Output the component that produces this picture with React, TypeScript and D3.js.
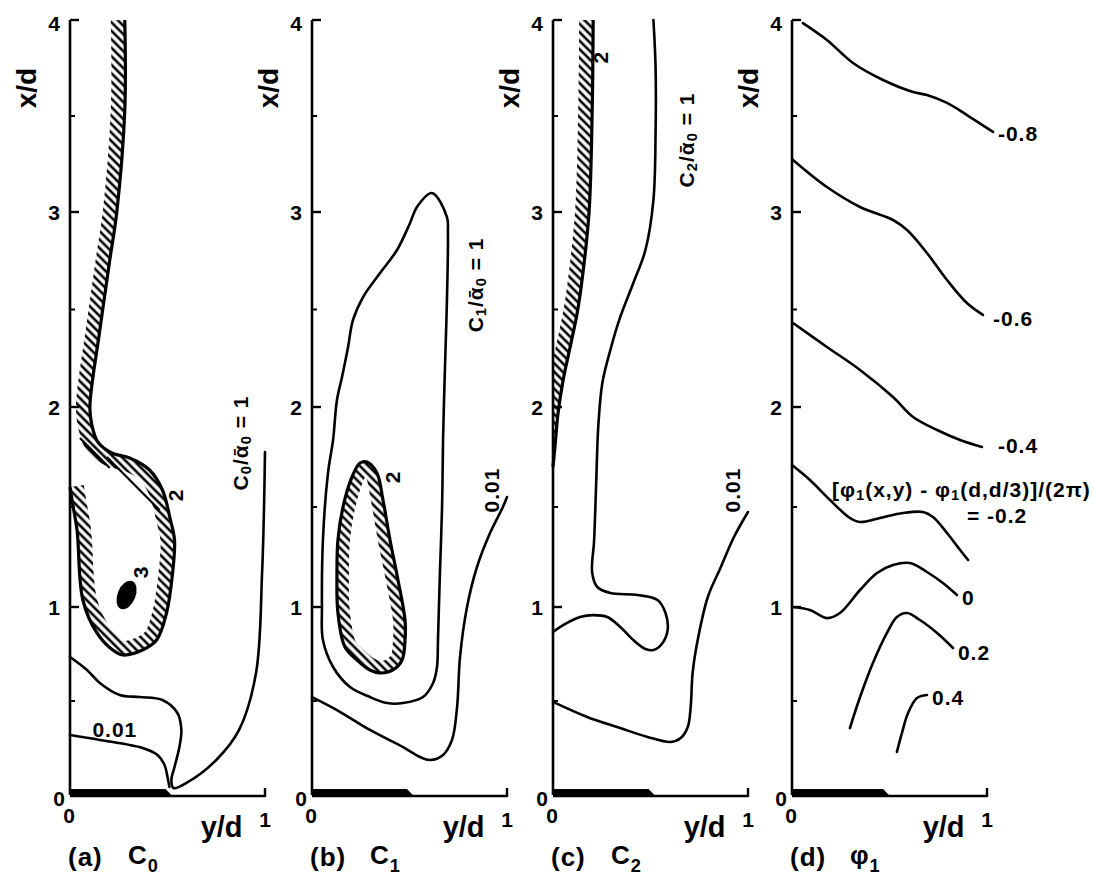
import React from 'react';
import * as d3 from 'd3';

type P = [number, number];

// ---------- axis data ----------
const Y_TICKS = [0, 1, 2, 3, 4];
const Y_MINOR = [0.5, 1.5, 2.5, 3.5];

// ---------- panel (a) C0 ----------
const A_LEVEL2: P[] = [[0.281,4.0],[0.281,3.531],[0.240,3.0],[0.204,2.754],[0.153,2.395],[0.102,2.0],[0.112,1.91],[0.143,1.825],[0.214,1.77],[0.306,1.745],[0.408,1.685],[0.474,1.585],[0.515,1.435],[0.536,1.335],[0.526,1.17],[0.495,0.968],[0.444,0.824],[0.372,0.771],[0.270,0.745],[0.219,0.771],[0.138,0.862],[0.066,1.035],[0.036,1.385],[0.010,1.535],[0,1.60]];
const A_NECK: P[][] = [[[0.051,1.845],[0.204,1.695]],[[0.189,1.75],[0.459,1.485]]];
const A_PEAK: P = [0.29, 1.06];
const A_LEVEL1: P[] = [[0,0.734],[0.087,0.665],[0.153,0.596],[0.255,0.532],[0.357,0.521],[0.474,0.505],[0.551,0.436],[0.571,0.346],[0.561,0.255],[0.536,0.149],[0.520,0.080],[0.531,0.037],[0.597,0.064],[0.750,0.186],[0.867,0.346],[0.954,0.649],[0.985,1.17],[0.995,1.50],[1.0,1.775]];
const A_LEVEL001: P[] = [[0,0.319],[0.153,0.293],[0.372,0.25],[0.449,0.213],[0.485,0.16],[0.5,0.096],[0.51,0.043]];

// ---------- panel (b) C1 ----------
const B_LEVEL1: P[] = [[0.615,3.099],[0.692,2.974],[0.697,2.892],[0.692,2.549],[0.682,2.205],[0.672,1.835],[0.667,1.50],[0.656,1.17],[0.646,0.824],[0.641,0.681],[0.621,0.596],[0.569,0.521],[0.467,0.489],[0.385,0.489],[0.297,0.521],[0.195,0.574],[0.108,0.681],[0.056,0.824],[0.051,1.0],[0.056,1.335],[0.082,1.67],[0.108,1.835],[0.128,2.036],[0.154,2.154],[0.185,2.308],[0.210,2.446],[0.262,2.564],[0.349,2.687],[0.436,2.805],[0.503,2.944],[0.538,3.026]];
const B_LEVEL2: P[] = [[0.282,1.725],[0.333,1.67],[0.364,1.535],[0.4,1.335],[0.441,1.135],[0.477,0.931],[0.477,0.824],[0.462,0.718],[0.415,0.665],[0.349,0.649],[0.297,0.665],[0.231,0.718],[0.169,0.787],[0.133,0.968],[0.128,1.17],[0.133,1.335],[0.159,1.50],[0.205,1.65],[0.246,1.72]];
const B_LEVEL001: P[] = [[0,0.521],[0.128,0.452],[0.297,0.346],[0.467,0.255],[0.554,0.202],[0.605,0.186],[0.672,0.213],[0.718,0.293],[0.744,0.468],[0.759,0.734],[0.795,1.0],[0.846,1.2],[0.913,1.37],[0.979,1.50],[1.0,1.55]];

// ---------- panel (c) C2 ----------
const C_LEVEL2: P[] = [[0.206,4.0],[0.201,3.531],[0.185,3.0],[0.149,2.651],[0.124,2.482],[0.088,2.308],[0.052,2.138],[0.026,1.97],[0.010,1.80],[0,1.70]];
const C_LEVEL1: P[] = [[0.515,4.0],[0.526,3.755],[0.526,3.411],[0.515,3.0625],[0.474,2.805],[0.412,2.636],[0.345,2.462],[0.294,2.292],[0.253,2.123],[0.232,1.9],[0.222,1.635],[0.211,1.335],[0.201,1.17],[0.227,1.10],[0.294,1.07],[0.433,1.06],[0.536,1.035],[0.577,0.968],[0.588,0.878],[0.562,0.809],[0.515,0.771],[0.474,0.777],[0.412,0.824],[0.345,0.894],[0.278,0.947],[0.206,0.957],[0.139,0.947],[0.052,0.904],[0,0.867]];
const C_LEVEL001: P[] = [[0,0.495],[0.175,0.415],[0.345,0.356],[0.485,0.309],[0.603,0.282],[0.655,0.303],[0.691,0.362],[0.706,0.468],[0.716,0.649],[0.742,0.824],[0.794,1.05],[0.861,1.2],[0.928,1.35],[1.0,1.475]];

// ---------- panel (d) phi1 ----------
const D_M08: P[] = [[0.056,3.984],[0.179,3.896],[0.313,3.776],[0.467,3.6875],[0.621,3.625],[0.692,3.609],[0.795,3.568],[0.897,3.505],[1.031,3.417]];
const D_M06: P[] = [[0.005,3.271],[0.179,3.13],[0.349,3.026],[0.518,2.959],[0.590,2.908],[0.692,2.79],[0.795,2.651],[0.897,2.533],[0.979,2.472]];
const D_M04: P[] = [[0.005,2.431],[0.179,2.308],[0.349,2.19],[0.518,2.051],[0.621,1.95],[0.744,1.885],[0.862,1.835],[0.974,1.8]];
const D_M02: P[] = [[0,1.71],[0.092,1.635],[0.195,1.535],[0.297,1.445],[0.349,1.425],[0.451,1.445],[0.569,1.47],[0.672,1.475],[0.723,1.45],[0.795,1.37],[0.862,1.285],[0.903,1.235]];
const D_P00: P[] = [[0,1.0],[0.092,0.984],[0.179,0.941],[0.246,0.968],[0.349,1.085],[0.436,1.17],[0.518,1.21],[0.605,1.22],[0.692,1.175],[0.774,1.12],[0.846,1.06]];
const D_P02: P[] = [[0.297,0.356],[0.349,0.521],[0.415,0.702],[0.487,0.862],[0.538,0.947],[0.590,0.968],[0.656,0.931],[0.744,0.862],[0.826,0.782]];
const D_P04: P[] = [[0.538,0.229],[0.564,0.33],[0.595,0.436],[0.641,0.516],[0.692,0.532]];

// nozzle (solid wall) extent along y/d
const NOZZLE_END = [0.49, 0.487, 0.49, 0.467];

type Label = { t: string; u: number; v: number; rot?: boolean; anchor?: 'start' | 'middle' };

const A_LABELS: Label[] = [
  { t: '2', u: 0.536, v: 1.56, rot: true },
  { t: '3', u: 0.357, v: 1.175, rot: true },
  { t: '0.01', u: 0.23, v: 0.35 },
  { t: 'C_0/ᾱ_0 = 1', u: 0.872, v: 1.82, rot: true },
];
const B_LABELS: Label[] = [
  { t: '2', u: 0.41, v: 1.65, rot: true },
  { t: '0.01', u: 0.918, v: 1.585, rot: true },
  { t: 'C_1/ᾱ_0 = 1', u: 0.836, v: 2.626, rot: true },
];
const C_LABELS: Label[] = [
  { t: '2', u: 0.242, v: 3.807, rot: true },
  { t: '0.01', u: 0.918, v: 1.585, rot: true },
  { t: 'C_2/ᾱ_0 = 1', u: 0.68, v: 3.375, rot: true },
];
const D_LABELS: Label[] = [
  { t: '-0.8', u: 1.056, v: 3.41, anchor: 'start' },
  { t: '-0.6', u: 1.031, v: 2.456, anchor: 'start' },
  { t: '-0.4', u: 1.056, v: 1.81, anchor: 'start' },
  { t: '[φ_1(x,y) - φ_1(d,d/3)]/(2π)', u: 0.205, v: 1.59, anchor: 'start' },
  { t: '= -0.2', u: 0.897, v: 1.46, anchor: 'start' },
  { t: '0', u: 0.872, v: 1.05, anchor: 'start' },
  { t: '0.2', u: 0.851, v: 0.761, anchor: 'start' },
  { t: '0.4', u: 0.718, v: 0.521, anchor: 'start' },
];

const CAPTIONS = ['(a)', '(b)', '(c)', '(d)'];
const CAPTION_SYMS = ['C_0', 'C_1', 'C_2', 'φ_1'];

const FONT = "'Liberation Sans', Arial, sans-serif";

function rich(s: string, size: number) {
  const parts = s.split(/_(.)/);
  const out: React.ReactNode[] = [];
  let down = false;
  const sh = size * 0.3;
  parts.forEach((p, i) => {
    if (i % 2 === 1) {
      out.push(<tspan key={i} dy={down ? 0 : sh} fontSize={size * 0.7}>{p}</tspan>);
      down = true;
    } else if (p !== '') {
      out.push(<tspan key={i} dy={down ? -sh : 0}>{p}</tspan>);
      down = false;
    }
  });
  return out;
}

interface PanelProps {
  idx: number;
  left: number;
  lines: P[][];
  closed: P[][];
  hatchOpen?: P[];
  hatchClosed?: P[];
  thin?: P[][];
  peak?: P;
  labels: Label[];
}

function Panel({ idx, left, lines, closed, hatchOpen, hatchClosed, thin, peak, labels }: PanelProps) {
  const x = d3.scaleLinear().domain([0, 1]).range([left, left + 195]);
  const y = d3.scaleLinear().domain(Y_TICKS).range([795, 607, 407, 212, 20]);
  const line = d3.line<P>().x(d => x(d[0])).y(d => y(d[1])).curve(d3.curveCatmullRom.alpha(0.5));
  const loop = d3.line<P>().x(d => x(d[0])).y(d => y(d[1])).curve(d3.curveCatmullRomClosed.alpha(0.5));
  const y0 = y(0);
  const ne = NOZZLE_END[idx];
  const cid = `clip${idx}`;
  return (
    <g>
      {hatchOpen && (
        <>
          <clipPath id={cid}>
            <path d={`${line(hatchOpen)}L${x(0)},${y(4)}Z`} />
          </clipPath>
          <path d={line(hatchOpen) || ''} fill="none" stroke="url(#hatch)" strokeWidth={28} clipPath={`url(#${cid})`} />
          <path d={line(hatchOpen) || ''} fill="none" stroke="#000" strokeWidth={3.2} />
        </>
      )}
      {hatchClosed && (
        <>
          <clipPath id={cid}>
            <path d={loop(hatchClosed) || ''} />
          </clipPath>
          <path d={loop(hatchClosed) || ''} fill="none" stroke="url(#hatch)" strokeWidth={24} clipPath={`url(#${cid})`} />
          <path d={loop(hatchClosed) || ''} fill="none" stroke="#000" strokeWidth={3.2} />
        </>
      )}
      {(thin || []).map((t, i) => (
        <path key={`t${i}`} d={line(t) || ''} stroke="#000" strokeWidth={2.2} fill="none" />
      ))}
      {lines.map((l, i) => (
        <path key={`l${i}`} d={line(l) || ''} stroke="#000" strokeWidth={2.6} fill="none" strokeLinecap="round" />
      ))}
      {closed.map((l, i) => (
        <path key={`c${i}`} d={loop(l) || ''} stroke="#000" strokeWidth={2.6} fill="none" />
      ))}
      {peak && (
        <ellipse cx={x(peak[0])} cy={y(peak[1])} rx={9} ry={15} fill="#000"
          transform={`rotate(22, ${x(peak[0])}, ${y(peak[1])})`} />
      )}
      {/* axes */}
      <line x1={x(0)} x2={x(0)} y1={y(0)} y2={y(4)} stroke="#000" strokeWidth={2.6} />
      {Y_TICKS.filter(t => t > 0).map(t => (
        <line key={`mt${t}`} x1={x(0)} x2={x(0) + 9} y1={y(t)} y2={y(t)} stroke="#000" strokeWidth={2.4} />
      ))}
      {Y_MINOR.map(t => (
        <line key={`nt${t}`} x1={x(0)} x2={x(0) + 5} y1={y(t)} y2={y(t)} stroke="#000" strokeWidth={2} />
      ))}
      <line x1={x(0)} x2={x(1)} y1={y0 + 1} y2={y0 + 1} stroke="#000" strokeWidth={2.6} />
      <line x1={x(1)} x2={x(1)} y1={y0 + 2} y2={y0 - 7} stroke="#000" strokeWidth={2.4} />
      <path d={`M${x(0)},${y0 - 6}L${x(ne)},${y0 - 6}L${x(ne + 0.035)},${y0 + 1}L${x(0)},${y0 + 1}Z`} fill="#000" />
      {/* tick labels */}
      <g fontFamily={FONT} fontWeight="bold" fontSize={21} fill="#000">
        {Y_TICKS.filter(t => t > 0).map(t => (
          <text key={`tl${t}`} x={x(0) - 10} y={y(t) + 8 + (t === 4 ? 3 : 0)} textAnchor="end">{t}</text>
        ))}
        <text x={x(0) - 5} y={y0 + 11} textAnchor="end">0</text>
        <text x={x(0) - 1} y={y0 + 28} textAnchor="middle">0</text>
        <text x={x(1)} y={y0 + 32} textAnchor="middle" fontSize={21}>1</text>
        <text x={x(0.67)} y={y0 + 42} fontSize={29}>y/d</text>
        <text transform={`translate(${x(0) - 44},${88}) rotate(-90)`} textAnchor="middle" dominantBaseline="central" fontSize={28}>x/d</text>
      </g>
      {/* caption */}
      <g fontFamily={FONT} fontSize={26} fontWeight="bold" fill="#000" letterSpacing={1}>
        <text x={x(0) - 2} y={866}>{CAPTIONS[idx]}</text>
        <text x={x(0) + 58} y={864}>{rich(CAPTION_SYMS[idx], 26)}</text>
      </g>
      {/* contour labels */}
      <g fontFamily={FONT} fontWeight="bold" fontSize={21} fill="#000" letterSpacing={1}>
        {labels.map((lb, i) => {
          const px = x(lb.u), py = y(lb.v);
          if (lb.rot) {
            return (
              <text key={`lb${i}`} transform={`translate(${px},${py}) rotate(-90)`} textAnchor="middle" dominantBaseline="central">
                {rich(lb.t, 21)}
              </text>
            );
          }
          return (
            <text key={`lb${i}`} x={px} y={py} textAnchor={lb.anchor || 'middle'} dominantBaseline="central">
              {rich(lb.t, 21)}
            </text>
          );
        })}
      </g>
    </g>
  );
}

export default function App() {
  return (
    <svg width={1094} height={880} style={{ position: 'absolute', left: 0, top: 0, background: '#fff' }}>
      <defs>
        <pattern id="hatch" width={6} height={6} patternUnits="userSpaceOnUse" patternTransform="rotate(-45)">
          <line x1={3} y1={-1} x2={3} y2={7} stroke="#000" strokeWidth={2.6} />
        </pattern>
      </defs>
      <rect width={1094} height={880} fill="#fff" />
      <Panel idx={0} left={70} lines={[A_LEVEL1, A_LEVEL001]} closed={[]} hatchOpen={A_LEVEL2} thin={A_NECK} peak={A_PEAK} labels={A_LABELS} />
      <Panel idx={1} left={312} lines={[B_LEVEL001]} closed={[B_LEVEL1]} hatchClosed={B_LEVEL2} labels={B_LABELS} />
      <Panel idx={2} left={553} lines={[C_LEVEL1, C_LEVEL001]} closed={[]} hatchOpen={C_LEVEL2} labels={C_LABELS} />
      <Panel idx={3} left={792} lines={[D_M08, D_M06, D_M04, D_M02, D_P00, D_P02, D_P04]} closed={[]} labels={D_LABELS} />
    </svg>
  );
}
